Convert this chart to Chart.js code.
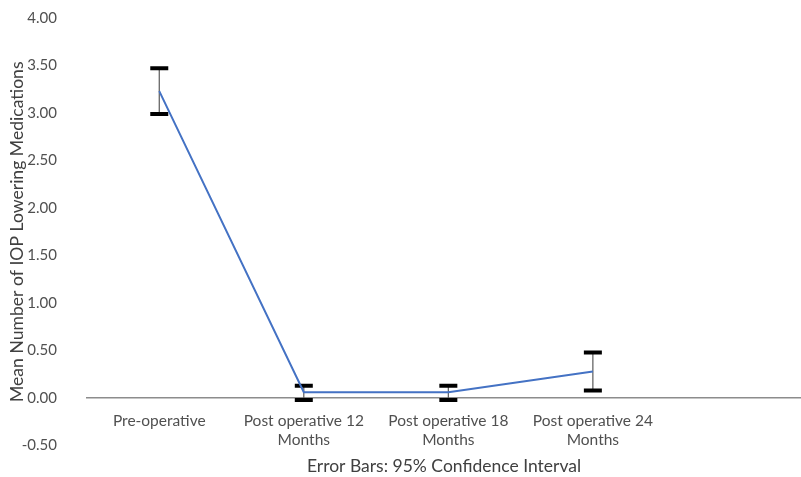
<!DOCTYPE html>
<html>
<head>
<meta charset="utf-8">
<title>Mean Number of IOP Lowering Medications</title>
<script src="https://cdn.jsdelivr.net/npm/chart.js@4/dist/chart.umd.min.js"></script>
<style>
  html, body { margin: 0; padding: 0; background: #ffffff; overflow: hidden; }
  #wrap { position: relative; width: 801px; height: 477px; }
</style>
</head>
<body>
<div id="wrap"><canvas id="chart"></canvas></div>
<script>
// Time points (each label split into its drawn lines)
const categories = [
  ['Pre-operative'],
  ['Post operative 12', 'Months'],
  ['Post operative 18', 'Months'],
  ['Post operative 24', 'Months']
];
// Mean number of medications and 95% confidence limits
const means = [3.23, 0.06, 0.06, 0.28];
const ciLower = [2.99, -0.02, -0.02, 0.08];
const ciUpper = [3.47, 0.13, 0.13, 0.48];
// Y axis tick values
const yTicks = [-0.5, 0, 0.5, 1, 1.5, 2, 2.5, 3, 3.5, 4];

const FONT = 'Lato, "Open Sans", "DejaVu Sans", sans-serif';
const TEXT = '#505050';
const TITLE = '#404040';

const meanSeries = {
  type: 'line',
  label: 'Mean',
  data: means.map((v, i) => ({ x: i + 1, y: v })),
  borderColor: '#4472C4',
  borderWidth: 2,
  pointRadius: 0,
  tension: 0,
  order: 0
};

// One small line dataset per time point: stem between limits, caps as 'line' points
const errorSeries = means.map((_, i) => ({
  type: 'line',
  label: 'CI ' + (i + 1),
  data: [{ x: i + 1, y: ciLower[i] }, { x: i + 1, y: ciUpper[i] }],
  borderColor: '#5a5a5a',
  borderWidth: 1.2,
  pointStyle: 'line',
  pointRadius: 9,
  pointBorderWidth: 4,
  pointBorderColor: '#000000',
  pointBackgroundColor: '#000000',
  order: 1
}));

new Chart(document.getElementById('chart'), {
  data: { datasets: [meanSeries, ...errorSeries] },
  options: {
    responsive: true,
    maintainAspectRatio: false,
    animation: false,
    events: [],
    layout: { autoPadding: false, padding: { top: 18, right: 0, bottom: 0, left: 0 } },
    plugins: {
      legend: { display: false },
      tooltip: { enabled: false },
      // x axis title, centred under the plot area
      title: {
        display: true,
        position: 'bottom',
        fullSize: false,
        text: 'Error Bars: 95% Confidence Interval',
        color: TITLE,
        font: { family: FONT, size: 17.5, weight: 'normal' },
        padding: { top: 10.5, bottom: 0 }
      }
    },
    scales: {
      x: {
        type: 'linear',
        position: { y: 0 },
        min: 0.5,
        max: 5.44,
        afterBuildTicks: (scale) => {
          scale.ticks = categories.map((_, i) => ({ value: i + 1 }));
        },
        ticks: {
          autoSkip: false,
          maxRotation: 0,
          padding: 14,
          color: TEXT,
          font: { family: FONT, size: 15.5 },
          callback: (value) => categories[value - 1] || ''
        },
        grid: { display: false, drawTicks: false },
        border: { display: true, color: '#8c8c8c', width: 1.5 }
      },
      y: {
        type: 'linear',
        min: -0.5,
        max: 4,
        afterBuildTicks: (scale) => {
          scale.ticks = yTicks.map(v => ({ value: v }));
        },
        afterFit: (scale) => { scale.width = 87; },
        ticks: {
          padding: 3,
          color: TEXT,
          font: { family: FONT, size: 15 },
          callback: (value) => value.toFixed(2)
        },
        grid: {
          display: true,
          drawOnChartArea: false,
          drawTicks: true,
          tickLength: 27,
          tickColor: 'rgba(0,0,0,0)'
        },
        border: { display: false },
        title: {
          display: true,
          text: 'Mean Number of IOP Lowering Medications',
          color: TITLE,
          font: { family: FONT, size: 17.6 },
          padding: { top: 6.5, bottom: 0 }
        }
      }
    }
  }
});
</script>
</body>
</html>
